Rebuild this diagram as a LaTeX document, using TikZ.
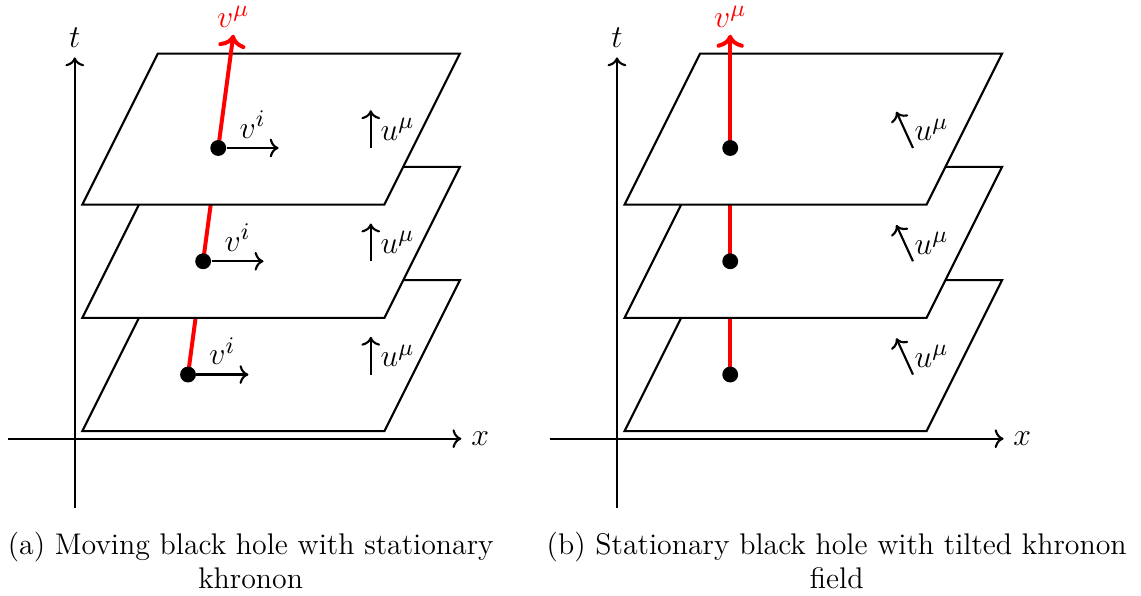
\documentclass[tikz,border=0pt]{standalone}
\usepackage{amsmath,amssymb}
\usetikzlibrary{arrows.meta,positioning}

\begin{document}
\begin{tikzpicture}[
  every node/.style={font=\fontsize{13.2}{15}\selectfont},
  axis/.style={thick, ->},
  plane/.style={draw, thick, fill=white},
  vel/.style={red, line width=1.5pt},
  bh/.style={circle, fill=black, inner sep=0pt, minimum size=2.1mm},
  small/.style={thick, ->},
  vlab/.style={above, inner sep=1pt, yshift=0.8pt},
  capt/.style={align=center, font=\fontsize{11.25}{12.8}\selectfont},
]
\useasboundingbox (-0.99,-2.08) rectangle (14.12,5.81);

% (a) moving black hole, stationary khronon
\draw[axis] (0,-0.92) -- (0,5.05) node[above] (ta) {$t$};
\draw[axis] (-0.89,0) -- (5.12,0) node[right] (xa) {$x$};

\coordinate (a1) at (1.5,0.85);
\coordinate (a2) at (1.7,2.35);
\coordinate (a3) at (1.9,3.85);
\coordinate (a4) at (2.1,5.35);

\draw[plane] (0.1,0.1) -- ++(4,0) -- ++(1,2) -- ++(-4,0) -- cycle;
\draw[vel] (a1) -- (a2);
\node[bh] (bha1) at (a1) {};
\draw[small] (bha1) -- ++(0.8,0) node[midway, above] (via1) {$v^i$};
\draw[small] (3.92,0.85) -- ++(0,0.5) node[midway, right] (ua1) {$u^\mu$};

\draw[plane] (0.1,1.6) -- ++(4,0) -- ++(1,2) -- ++(-4,0) -- cycle;
\draw[vel] (a2) -- (a3);
\node[bh] (bha2) at (a2) {};
\draw[small] (bha2) -- ++(0.8,0) node[midway, above] (via2) {$v^i$};
\draw[small] (3.92,2.35) -- ++(0,0.5) node[midway, right] (ua2) {$u^\mu$};

\draw[plane] (0.1,3.1) -- ++(4,0) -- ++(1,2) -- ++(-4,0) -- cycle;
\draw[vel, ->] (a3) -- (a4) node[vlab] (vmua) {$v^\mu$};
\node[bh] (bha3) at (a3) {};
\draw[small] (bha3) -- ++(0.8,0) node[midway, above] (via3) {$v^i$};
\draw[small] (3.92,3.85) -- ++(0,0.5) node[midway, right] (ua3) {$u^\mu$};

\node[capt] (capa) at (2.33,-1.615) {(a) Moving black hole with stationary\\khronon};

% (b) stationary black hole, tilted khronon
\begin{scope}[xshift=7.18cm]
\draw[axis] (0,-0.92) -- (0,5.05) node[above] (tb) {$t$};
\draw[axis] (-0.89,0) -- (5.12,0) node[right] (xb) {$x$};

\coordinate (b1) at (1.5,0.85);
\coordinate (b2) at (1.5,2.35);
\coordinate (b3) at (1.5,3.85);
\coordinate (b4) at (1.5,5.35);

\draw[plane] (0.1,0.1) -- ++(4,0) -- ++(1,2) -- ++(-4,0) -- cycle;
\draw[vel] (b1) -- (b2);
\node[bh] (bhb1) at (b1) {};
\draw[small] (3.92,0.85) -- ++(-0.22,0.48) node[midway, right] (ub1) {$u^\mu$};

\draw[plane] (0.1,1.6) -- ++(4,0) -- ++(1,2) -- ++(-4,0) -- cycle;
\draw[vel] (b2) -- (b3);
\node[bh] (bhb2) at (b2) {};
\draw[small] (3.92,2.35) -- ++(-0.22,0.48) node[midway, right] (ub2) {$u^\mu$};

\draw[plane] (0.1,3.1) -- ++(4,0) -- ++(1,2) -- ++(-4,0) -- cycle;
\draw[vel, ->] (b3) -- (b4) node[vlab] (vmub) {$v^\mu$};
\node[bh] (bhb3) at (b3) {};
\draw[small] (3.92,3.85) -- ++(-0.22,0.48) node[midway, right] (ub3) {$u^\mu$};

\node[capt] (capb) at (2.91,-1.615) {(b) Stationary black hole with tilted khronon\\field};
\end{scope}

\end{tikzpicture}
\end{document}
